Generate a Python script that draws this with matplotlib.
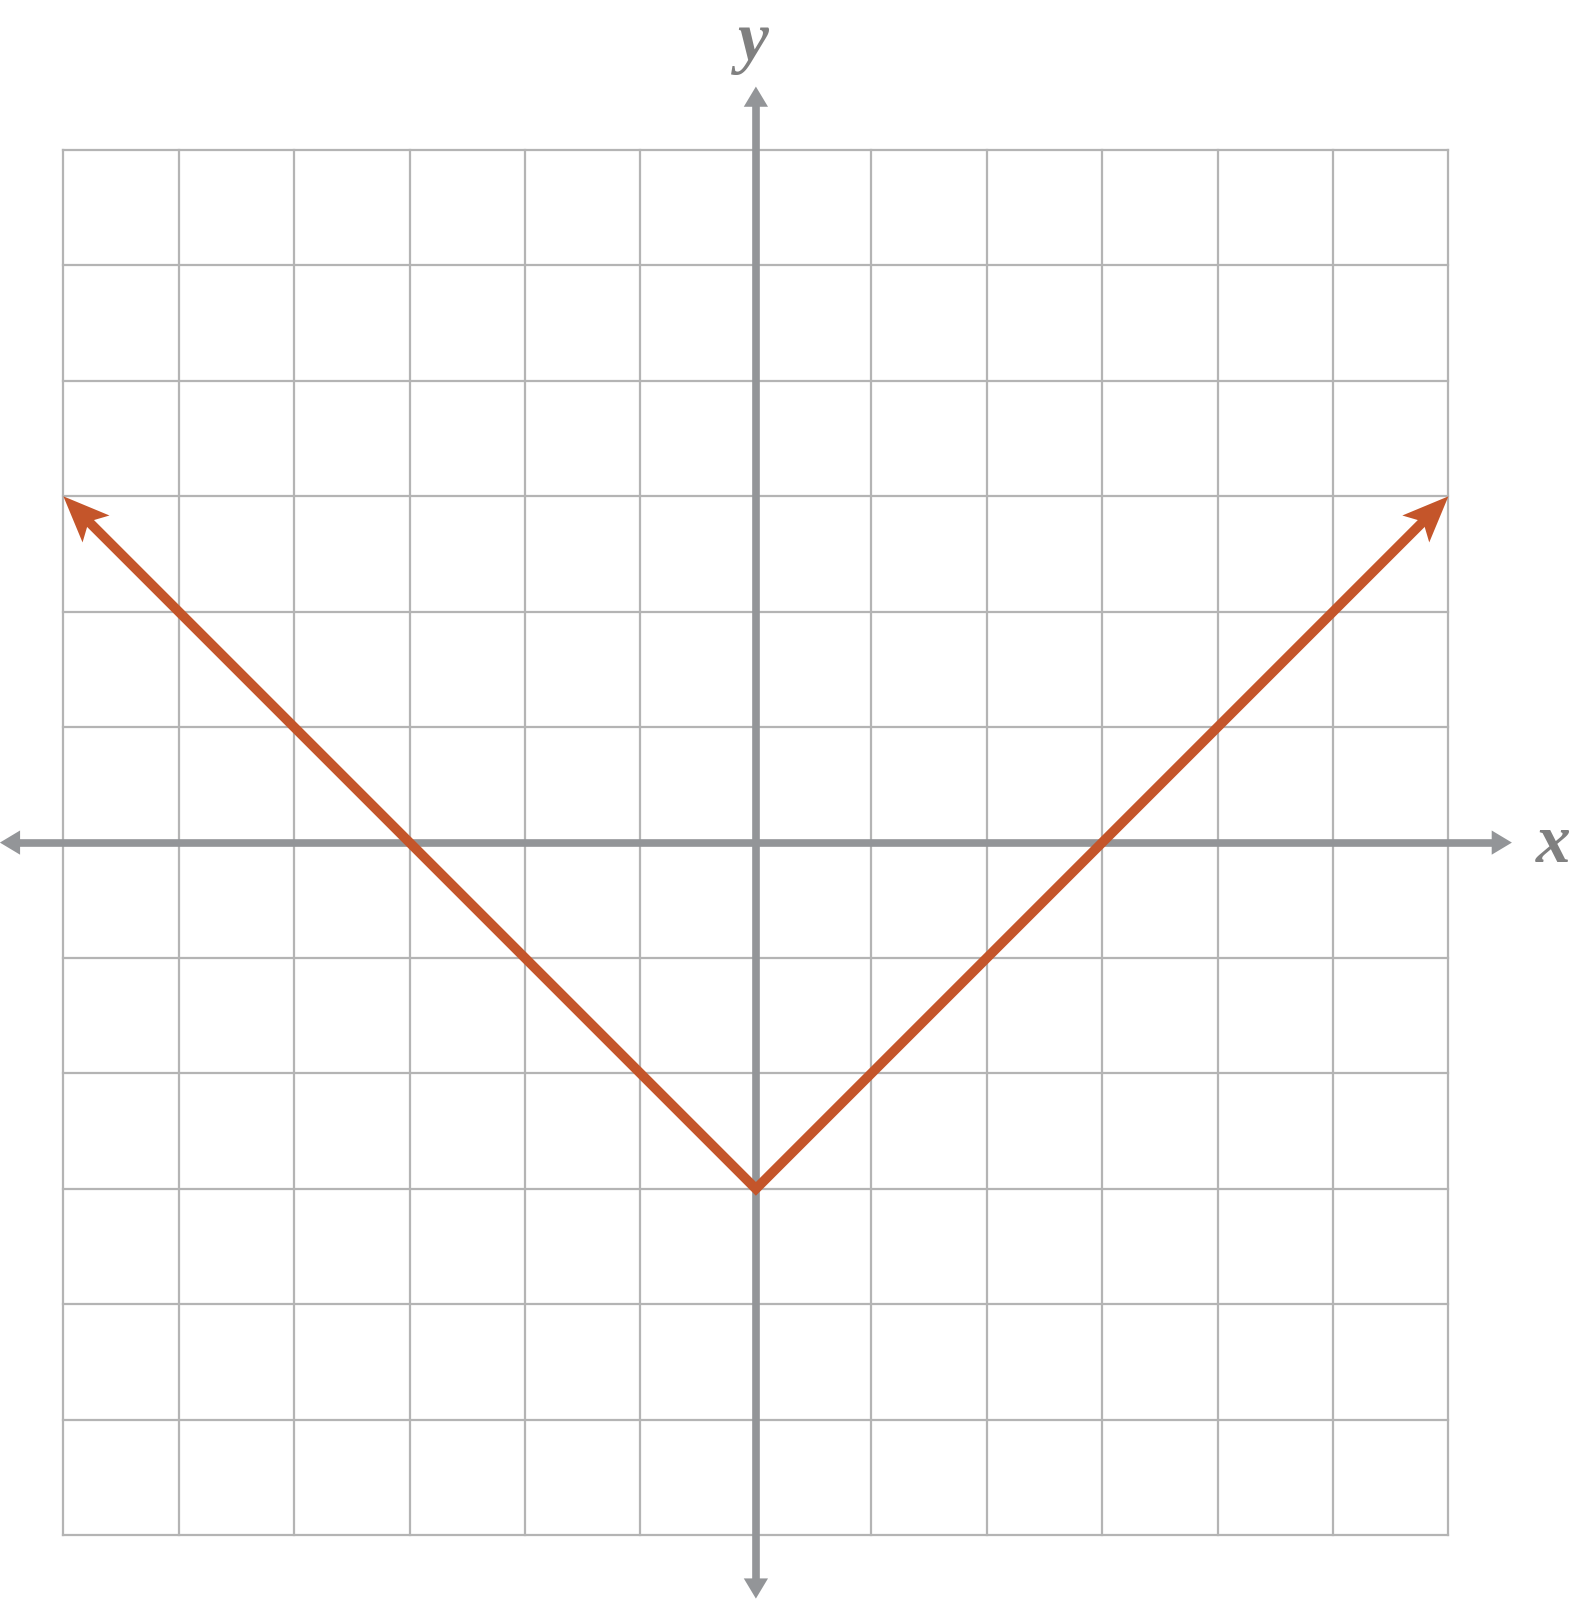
import numpy as np
import matplotlib
matplotlib.use("Agg")
import matplotlib.pyplot as plt
from matplotlib.patches import Polygon

# --- DATA ---
x_ticks = np.arange(-6, 7, 1)
y_ticks = np.arange(-6, 7, 1)
v_x = [-6, 0, 6]
v_y = [3, -3, 3]
axis_reach = 6.55

# --- STYLE ---
GRID_COLOR = '#b4b4b4'
AXIS_COLOR = '#939598'
LINE_COLOR = '#c4552a'
LABEL_COLOR = '#808080'

fig = plt.figure(figsize=(15.74, 16), dpi=100)
ax = fig.add_axes([0, 0, 1, 1])
ax.set_xlim(-6.549, 7.088)
ax.set_ylim(-6.562, 7.30)
ax.axis('off')


def arrow_head(tip, direction, length, half_w, notch, color, z):
    d = np.asarray(direction, float)
    d = d / np.hypot(*d)
    n = np.array([-d[1], d[0]])
    tip = np.asarray(tip, float)
    back = tip - d * length
    pts = [tip, back + n * half_w, tip - d * notch, back - n * half_w]
    ax.add_patch(Polygon(pts, closed=True, facecolor=color, edgecolor='none', zorder=z))


# grid
for gx in x_ticks:
    ax.plot([gx, gx], [y_ticks[0], y_ticks[-1]], color=GRID_COLOR, lw=1.6, zorder=1)
for gy in y_ticks:
    ax.plot([x_ticks[0], x_ticks[-1]], [gy, gy], color=GRID_COLOR, lw=1.6, zorder=1)

# axes with arrows
ah_len, ah_w = 0.175, 0.105
ax.plot([-axis_reach + ah_len * 0.9, axis_reach - ah_len * 0.9], [0, 0], color=AXIS_COLOR, lw=5.5,
        solid_capstyle='butt', zorder=2)
ax.plot([0, 0], [-axis_reach + ah_len * 0.9, axis_reach - ah_len * 0.9], color=AXIS_COLOR, lw=5.5,
        solid_capstyle='butt', zorder=2)
arrow_head((axis_reach, 0), (1, 0), ah_len, ah_w, ah_len, AXIS_COLOR, 2)
arrow_head((-axis_reach, 0), (-1, 0), ah_len, ah_w, ah_len, AXIS_COLOR, 2)
arrow_head((0, axis_reach), (0, 1), ah_len, ah_w, ah_len, AXIS_COLOR, 2)
arrow_head((0, -axis_reach), (0, -1), ah_len, ah_w, ah_len, AXIS_COLOR, 2)

# V-shaped graph with arrowheads at both ends
hl, hw, notch = 0.40, 0.165, 0.31
start = np.array([v_x[0], v_y[0]], float)
end = np.array([v_x[-1], v_y[-1]], float)
d_start = start - np.array([v_x[1], v_y[1]])
d_end = end - np.array([v_x[-2], v_y[-2]])
xs = list(v_x)
ys = list(v_y)
s_in = start - d_start / np.hypot(*d_start) * notch * 0.9
e_in = end - d_end / np.hypot(*d_end) * notch * 0.9
xs[0], ys[0] = s_in
xs[-1], ys[-1] = e_in
ax.plot(xs, ys, color=LINE_COLOR, lw=7, solid_joinstyle='miter', solid_capstyle='butt', zorder=3)
arrow_head(start, d_start, hl, hw, notch, LINE_COLOR, 3)
arrow_head(end, d_end, hl, hw, notch, LINE_COLOR, 3)

# axis labels
ax.text(-0.02, 6.78, 'y', color=LABEL_COLOR, fontsize=50, family='Liberation Serif',
        style='italic', weight='bold', ha='center', va='baseline')
ax.text(6.905, -0.17, 'x', color=LABEL_COLOR, fontsize=50, family='Liberation Serif',
        style='italic', weight='bold', ha='center', va='baseline')

fig.savefig('out.png', dpi=100, facecolor='white')
